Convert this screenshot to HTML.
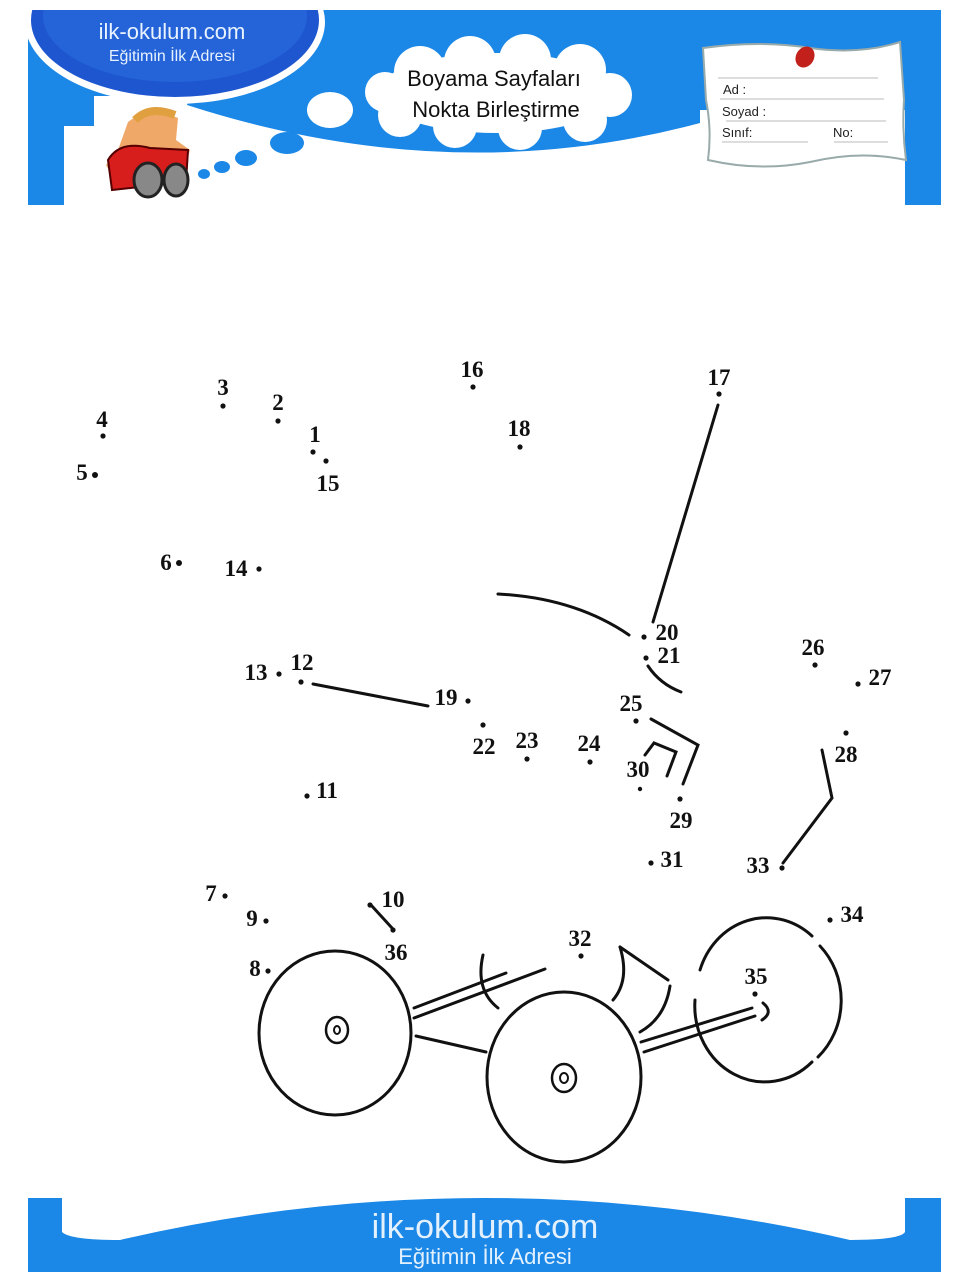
<!DOCTYPE html>
<html><head><meta charset="utf-8"><style>
html,body{margin:0;padding:0;background:#fff;}
svg{display:block;}
.n{font-family:"Liberation Serif",serif;font-weight:bold;font-size:23px;fill:#111;}
.s{font-family:"Liberation Sans",sans-serif;}
</style></head><body>
<svg width="970" height="1280" viewBox="0 0 970 1280" xmlns="http://www.w3.org/2000/svg">
<defs><clipPath id="hc"><rect x="28" y="10" width="913" height="195"/></clipPath></defs>
<!-- HEADER -->
<g clip-path="url(#hc)">
<rect x="28" y="10" width="913" height="195" fill="#1b87e6"/>
<path d="M64,205 V126 H94 V96 H190 L187,105 Q450,190 700,123 L700,110 L905,110 V205 Z" fill="#fff"/>
<ellipse cx="175" cy="22" rx="150" ry="82" fill="#fff"/>
<ellipse cx="175" cy="20" rx="144" ry="77" fill="#1d56cf"/>
<ellipse cx="175" cy="16" rx="132" ry="66" fill="#2563d8"/>
</g>
<text x="172" y="39" class="s" font-size="22" fill="#e8f3ff" text-anchor="middle">ilk-okulum.com</text>
<text x="172" y="61" class="s" font-size="16" fill="#e8f3ff" text-anchor="middle">Eğitimin İlk Adresi</text>
<!-- cloud -->
<g fill="#fff">
<ellipse cx="497" cy="93" rx="120" ry="40"/>
<circle cx="420" cy="72" r="26"/><circle cx="470" cy="62" r="26"/><circle cx="525" cy="60" r="26"/><circle cx="580" cy="70" r="26"/>
<circle cx="610" cy="95" r="22"/><circle cx="585" cy="120" r="22"/><circle cx="520" cy="128" r="22"/><circle cx="455" cy="126" r="22"/><circle cx="400" cy="115" r="22"/><circle cx="385" cy="92" r="20"/>
<ellipse cx="330" cy="110" rx="23" ry="18"/>
</g>
<text x="494" y="86" class="s" font-size="22" fill="#111" text-anchor="middle">Boyama Sayfaları</text>
<text x="496" y="117" class="s" font-size="22" fill="#111" text-anchor="middle">Nokta Birleştirme</text>
<!-- blue thought dots -->
<g fill="#1b87e6">
<ellipse cx="287" cy="143" rx="17" ry="11"/><ellipse cx="246" cy="158" rx="11" ry="8"/><ellipse cx="222" cy="167" rx="8" ry="6"/><ellipse cx="204" cy="174" rx="6" ry="5"/>
</g>
<!-- car -->
<g>
<path d="M128,122 Q150,105 178,118 L176,140 L190,150 L182,178 L118,185 L106,165 L118,150 Z" fill="#f0a868"/>
<path d="M108,160 Q120,140 150,148 L188,150 L186,182 L112,190 Z" fill="#d81d1d" stroke="#500" stroke-width="2"/>
<ellipse cx="148" cy="180" rx="14" ry="17" fill="#888" stroke="#222" stroke-width="3"/>
<ellipse cx="176" cy="180" rx="12" ry="16" fill="#888" stroke="#222" stroke-width="3"/>
<path d="M135,120 Q150,105 175,115" stroke="#e0a040" stroke-width="8" fill="none"/>
</g>
<!-- note -->
<path d="M703,48 Q760,40 810,48 Q860,55 900,42 L904,100 Q902,130 906,160 Q860,150 810,162 Q760,172 708,160 Q712,130 706,100 Z" fill="#fff" stroke="#9aa" stroke-width="2"/>
<ellipse cx="805" cy="57" rx="9" ry="11" fill="#c2201a" transform="rotate(30 805 57)"/>
<g stroke="#bbb" stroke-width="1">
<line x1="718" y1="78" x2="878" y2="78"/><line x1="720" y1="99" x2="884" y2="99"/><line x1="726" y1="121" x2="886" y2="121"/><line x1="722" y1="142" x2="808" y2="142"/><line x1="834" y1="142" x2="888" y2="142"/>
</g>
<g class="s" font-size="13" fill="#222">
<text x="723" y="94">Ad :</text><text x="722" y="116">Soyad :</text><text x="722" y="137">Sınıf:</text><text x="833" y="137">No:</text>
</g>
<!-- FOOTER -->
<rect x="28" y="1198" width="913" height="74" fill="#1b87e6"/>
<path d="M62,1198 V1232 Q70,1240 120,1240 Q300,1198 485,1198 Q670,1198 850,1240 Q900,1240 905,1232 V1198 Z" fill="#fff"/>
<text x="485" y="1238" class="s" font-size="34" fill="#e3f1ff" text-anchor="middle">ilk-okulum.com</text>
<text x="485" y="1264" class="s" font-size="22" fill="#e3f1ff" text-anchor="middle">Eğitimin İlk Adresi</text>
<!-- DRAWING lines -->
<g stroke="#111" stroke-width="3" fill="none" stroke-linecap="round">
<line x1="718" y1="405" x2="653" y2="622"/>
<path d="M498,594 Q575,598 629,635"/>
<path d="M648,666 Q660,684 681,692"/>
<line x1="313" y1="684" x2="428" y2="706"/>
<line x1="371" y1="905" x2="392" y2="928"/>
<path d="M651,719 L698,745 L683,784"/>
<path d="M645,755 L654,743 L676,752 L667,776"/>
<path d="M822,750 L832,798 L783,863"/>
<ellipse cx="335" cy="1033" rx="76" ry="82"/>
<ellipse cx="564" cy="1077" rx="77" ry="85"/>
<path d="M812,936 A70,76 0 0 0 700,970"/>
<path d="M695,1000 A70,76 0 0 0 812,1062"/>
<path d="M820,946 A70,76 0 0 1 818,1057"/>
<ellipse cx="337" cy="1030" rx="11" ry="13" stroke-width="2.5"/>
<ellipse cx="337" cy="1030" rx="3" ry="4" stroke-width="2"/>
<ellipse cx="564" cy="1078" rx="12" ry="14" stroke-width="2.5"/>
<ellipse cx="564" cy="1078" rx="4" ry="5" stroke-width="2"/>
<line x1="414" y1="1008" x2="506" y2="973"/>
<line x1="414" y1="1018" x2="545" y2="969"/>
<line x1="416" y1="1036" x2="486" y2="1052"/>
<line x1="641" y1="1042" x2="752" y2="1008"/>
<line x1="644" y1="1052" x2="755" y2="1016"/>
<path d="M763,1003 Q774,1012 762,1020"/>
<path d="M483,955 Q475,990 498,1008"/>
<path d="M620,947 L668,980"/>
<path d="M620,947 Q630,980 613,1000"/>
<path d="M670,986 Q665,1018 640,1032"/>
</g>
<!-- dots -->
<g fill="#111">
<circle cx="223" cy="406" r="2.6"/><circle cx="278" cy="421" r="2.6"/><circle cx="103" cy="436" r="2.6"/>
<circle cx="313" cy="452" r="2.6"/><circle cx="326" cy="461" r="2.6"/><circle cx="95" cy="475" r="3"/>
<circle cx="473" cy="387" r="2.6"/><circle cx="719" cy="394" r="2.6"/><circle cx="520" cy="447" r="2.6"/>
<circle cx="179" cy="563" r="3"/><circle cx="259" cy="569" r="2.6"/>
<circle cx="644" cy="637" r="2.6"/><circle cx="646" cy="658" r="2.6"/>
<circle cx="279" cy="674" r="2.6"/><circle cx="301" cy="682" r="2.6"/><circle cx="468" cy="701" r="2.6"/>
<circle cx="815" cy="665" r="2.6"/><circle cx="858" cy="684" r="2.6"/><circle cx="636" cy="721" r="2.6"/>
<circle cx="483" cy="725" r="2.6"/><circle cx="527" cy="759" r="2.6"/><circle cx="590" cy="762" r="2.6"/>
<circle cx="640" cy="789" r="2.2"/><circle cx="846" cy="733" r="2.6"/><circle cx="680" cy="799" r="2.6"/>
<circle cx="307" cy="796" r="2.6"/><circle cx="651" cy="863" r="2.6"/><circle cx="782" cy="868" r="2.6"/>
<circle cx="225" cy="896" r="2.6"/><circle cx="266" cy="921" r="2.6"/><circle cx="370" cy="905" r="2.6"/>
<circle cx="393" cy="930" r="2.6"/><circle cx="830" cy="920" r="2.6"/><circle cx="581" cy="956" r="2.6"/>
<circle cx="268" cy="971" r="2.6"/><circle cx="755" cy="994" r="2.6"/>
</g>
<!-- numbers -->
<g class="n">
<text x="223" y="395" text-anchor="middle">3</text>
<text x="278" y="410" text-anchor="middle">2</text>
<text x="102" y="427" text-anchor="middle">4</text>
<text x="315" y="442" text-anchor="middle">1</text>
<text x="328" y="491" text-anchor="middle">15</text>
<text x="82" y="480" text-anchor="middle">5</text>
<text x="472" y="377" text-anchor="middle">16</text>
<text x="719" y="385" text-anchor="middle">17</text>
<text x="519" y="436" text-anchor="middle">18</text>
<text x="166" y="570" text-anchor="middle">6</text>
<text x="236" y="576" text-anchor="middle">14</text>
<text x="667" y="640" text-anchor="middle">20</text>
<text x="669" y="663" text-anchor="middle">21</text>
<text x="256" y="680" text-anchor="middle">13</text>
<text x="302" y="670" text-anchor="middle">12</text>
<text x="446" y="705" text-anchor="middle">19</text>
<text x="813" y="655" text-anchor="middle">26</text>
<text x="880" y="685" text-anchor="middle">27</text>
<text x="631" y="711" text-anchor="middle">25</text>
<text x="484" y="754" text-anchor="middle">22</text>
<text x="527" y="748" text-anchor="middle">23</text>
<text x="589" y="751" text-anchor="middle">24</text>
<text x="638" y="777" text-anchor="middle">30</text>
<text x="846" y="762" text-anchor="middle">28</text>
<text x="681" y="828" text-anchor="middle">29</text>
<text x="327" y="798" text-anchor="middle">11</text>
<text x="672" y="867" text-anchor="middle">31</text>
<text x="758" y="873" text-anchor="middle">33</text>
<text x="211" y="901" text-anchor="middle">7</text>
<text x="252" y="926" text-anchor="middle">9</text>
<text x="393" y="907" text-anchor="middle">10</text>
<text x="396" y="960" text-anchor="middle">36</text>
<text x="852" y="922" text-anchor="middle">34</text>
<text x="580" y="946" text-anchor="middle">32</text>
<text x="255" y="976" text-anchor="middle">8</text>
<text x="756" y="984" text-anchor="middle">35</text>
</g>
</svg>
</body></html>
